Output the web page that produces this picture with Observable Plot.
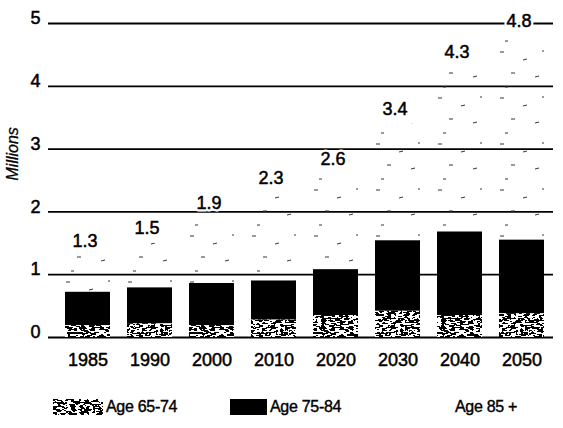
<!DOCTYPE html>
<html>
<head>
<meta charset="utf-8">
<script src="https://cdn.jsdelivr.net/npm/d3@7"></script>
<script src="https://cdn.jsdelivr.net/npm/@observablehq/plot@0.6"></script>
<style>
  body { margin: 0; background: #fff; font-family: "Liberation Sans", Arial, Helvetica, sans-serif; }
  #chart { position: relative; width: 563px; height: 428px; overflow: hidden; }
  #chart > svg.plot { position: absolute; left: 0; top: 0; }
  .legend { position: absolute; left: 0; top: 398px; width: 563px; height: 17px; font-size: 16px; color: #000;
            -webkit-text-stroke: 0.4px #000; letter-spacing: -0.3px; }
  .legend .item { position: absolute; top: 0; height: 17px; display: flex; align-items: center; white-space: nowrap; }
  .legend svg { display: block; margin-right: 3px; }
</style>
</head>
<body>
<!-- shared fill textures for the age groups -->
<svg width="0" height="0" style="position:absolute">
  <defs>
    <filter id="grain" x="0" y="0" width="1" height="1" color-interpolation-filters="sRGB">
      <feTurbulence type="fractalNoise" baseFrequency="0.22 0.55" numOctaves="2" seed="7"/>
      <feColorMatrix type="saturate" values="0"/>
      <feComponentTransfer>
        <feFuncR type="discrete" tableValues="0 1"/>
        <feFuncG type="discrete" tableValues="0 1"/>
        <feFuncB type="discrete" tableValues="0 1"/>
        <feFuncA type="linear" slope="0" intercept="1"/>
      </feComponentTransfer>
    </filter>
    <pattern id="tex65" patternUnits="userSpaceOnUse" width="120" height="60">
      <rect width="120" height="60" fill="#fff" filter="url(#grain)"/>
    </pattern>
    <pattern id="tex85" patternUnits="userSpaceOnUse" width="62" height="46">
      <g stroke="#333" stroke-width="1" fill="none">
        <line x1="4" y1="6" x2="8" y2="6"/>
        <line x1="27" y1="14" x2="31" y2="13"/>
        <line x1="46" y1="5" x2="50" y2="5"/>
        <line x1="15" y1="27" x2="19" y2="27"/>
        <line x1="39" y1="31" x2="43" y2="30"/>
        <line x1="55" y1="40" x2="58" y2="40"/>
        <line x1="9" y1="41" x2="12" y2="41"/>
      </g>
    </pattern>
  </defs>
</svg>

<div id="chart"></div>

<script>
// Population by age group, millions
const years = ["1985", "1990", "2000", "2010", "2020", "2030", "2040", "2050"];
const age65to74 = [0.19, 0.22, 0.19, 0.28, 0.35, 0.42, 0.35, 0.38];
const age75to84 = [0.53, 0.57, 0.67, 0.62, 0.73, 1.12, 1.33, 1.17];
const age85plus = [0.58, 0.71, 1.04, 1.40, 1.52, 1.86, 2.62, 3.25];
const totals = [1.3, 1.5, 1.9, 2.3, 2.6, 3.4, 4.3, 4.8];
const groups = ["Age 65-74", "Age 75-84", "Age 85 +"];
const groupFills = ["url(#tex65)", "#000", "url(#tex85)"];
const yTicks = [0, 1, 2, 3, 4, 5];

const rows = years.flatMap((year, i) => [
  {year, group: groups[0], value: age65to74[i]},
  {year, group: groups[1], value: age75to84[i]},
  {year, group: groups[2], value: age85plus[i]}
]);
const totalRows = years.map((year, i) => ({year, total: totals[i]}));

const font = '"Liberation Sans", Arial, Helvetica, sans-serif';
// slightly heavier glyphs for the printed-look labels
const ink = {fill: "#000", stroke: "#000", strokeWidth: 0.5};

const plot = Plot.plot({
  width: 563,
  height: 385,
  marginLeft: 55,
  marginRight: 10,
  marginTop: 23,
  marginBottom: 48,
  style: {fontFamily: font, color: "#000", background: "transparent", overflow: "visible"},
  x: {domain: years, paddingInner: 0.28, paddingOuter: 0.14, axis: null},
  y: {domain: [0, 5], axis: null},
  color: {domain: groups, range: groupFills},
  marks: [
    // horizontal gridlines
    Plot.ruleY(yTicks, {stroke: "#000", strokeWidth: 1.8, insetLeft: -7}),
    // stacked bars
    Plot.barY(rows, {x: "year", y: "value", fill: "group"}),
    // white knock-out behind the totals
    Plot.text(totalRows, {
      x: "year", y: "total", text: d => d.total.toFixed(1),
      dx: -3, dy: -15, fontSize: 18, fill: "#fff", stroke: "#fff", strokeWidth: 5
    }),
    // totals above each bar
    Plot.text(totalRows, {
      x: "year", y: "total", text: d => d.total.toFixed(1),
      dx: -3, dy: -15, fontSize: 18, ...ink
    }),
    // y tick labels
    Plot.text(yTicks, {
      y: d => d, text: d => String(d), frameAnchor: "left",
      textAnchor: "end", dx: -15, dy: -5, fontSize: 18, ...ink
    }),
    // y axis title
    Plot.text(["Millions"], {
      frameAnchor: "left", dx: -43, rotate: -90, fontSize: 16,
      fontStyle: "italic", fill: "#000", stroke: "#000", strokeWidth: 0.3
    }),
    // x tick labels
    Plot.text(years, {
      x: d => d, text: d => d, frameAnchor: "bottom",
      dy: 28, fontSize: 18, ...ink
    })
  ]
});

const chart = document.getElementById("chart");
chart.appendChild(plot);

// legend below the chart
const legend = document.createElement("div");
legend.className = "legend";
const legendItems = [
  {label: groups[0], fill: groupFills[0], left: 53, w: 50},
  {label: groups[1], fill: groupFills[1], left: 230, w: 37},
  {label: groups[2], fill: "none", left: 420, w: 32}
];
for (const it of legendItems) {
  const item = document.createElement("div");
  item.className = "item";
  item.style.left = it.left + "px";
  item.innerHTML = `<svg width="${it.w}" height="16"><rect width="${it.w}" height="16" fill="${it.fill}"/></svg><span>${it.label}</span>`;
  legend.appendChild(item);
}
chart.appendChild(legend);
</script>
</body>
</html>
